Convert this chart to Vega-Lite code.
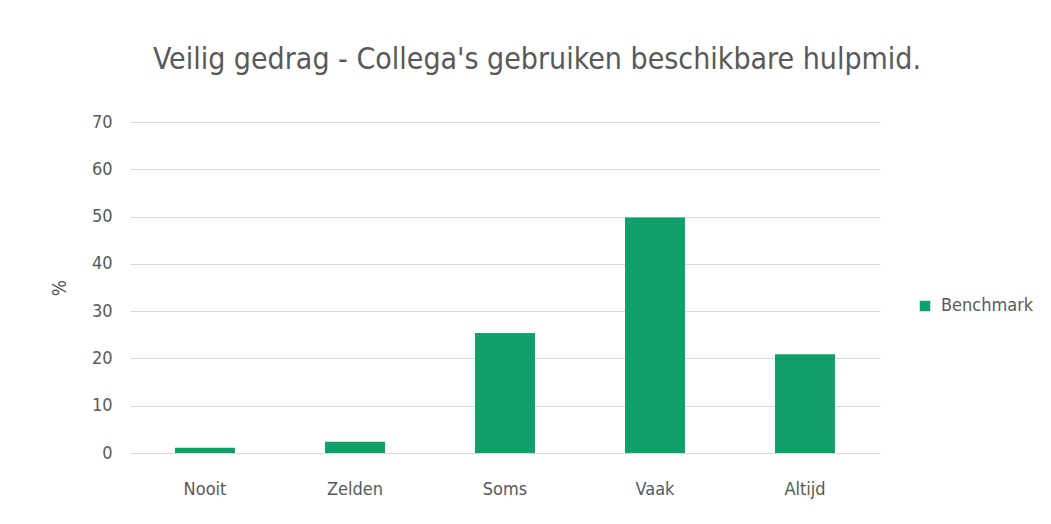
{
  "$schema": "https://vega.github.io/schema/vega-lite/v6.json",
  "width": 750,
  "height": 331,
  "autosize": {"type": "none"},
  "padding": {"left": 130, "top": 122, "right": 171, "bottom": 71},
  "background": "white",
  "config": {
    "view": {"stroke": null},
    "font": "DejaVu Sans Condensed, Open Sans, sans-serif"
  },
  "title": {
    "text": "Veilig gedrag - Collega's gebruiken beschikbare hulpmid.",
    "fontSize": 30,
    "fontWeight": "normal",
    "color": "#595959",
    "font": "DejaVu Sans Condensed, Open Sans, sans-serif",
    "anchor": "middle",
    "dx": 32,
    "offset": 38
  },
  "data": {
    "values": [
      {"antwoord": "Nooit", "pct": 1.1, "reeks": "Benchmark"},
      {"antwoord": "Zelden", "pct": 2.4, "reeks": "Benchmark"},
      {"antwoord": "Soms", "pct": 25.4, "reeks": "Benchmark"},
      {"antwoord": "Vaak", "pct": 49.8, "reeks": "Benchmark"},
      {"antwoord": "Altijd", "pct": 20.9, "reeks": "Benchmark"}
    ]
  },
  "mark": {"type": "bar"},
  "encoding": {
    "x": {
      "field": "antwoord",
      "type": "nominal",
      "sort": null,
      "scale": {"paddingInner": 0.6, "paddingOuter": 0.3},
      "axis": {
        "title": null,
        "labelAngle": 0,
        "labelFontSize": 18,
        "labelColor": "#595959",
        "labelPadding": 27,
        "ticks": false,
        "domainColor": "#d9d9d9"
      }
    },
    "y": {
      "field": "pct",
      "type": "quantitative",
      "scale": {"domain": [0, 70]},
      "axis": {
        "title": "%",
        "titleFontSize": 19,
        "titleFontWeight": "normal",
        "titleColor": "#595959",
        "titlePadding": 22,
        "values": [0, 10, 20, 30, 40, 50, 60, 70],
        "labelFontSize": 18,
        "labelColor": "#595959",
        "labelPadding": 18,
        "ticks": false,
        "domain": false,
        "gridColor": "#d9d9d9",
        "gridWidth": 1
      }
    },
    "color": {
      "field": "reeks",
      "type": "nominal",
      "scale": {"range": ["#12A06A"]},
      "legend": {
        "title": null,
        "orient": "none",
        "legendX": 786,
        "legendY": 175,
        "symbolType": "square",
        "symbolSize": 110,
        "labelFontSize": 18,
        "labelColor": "#595959",
        "labelOffset": 7
      }
    }
  }
}
